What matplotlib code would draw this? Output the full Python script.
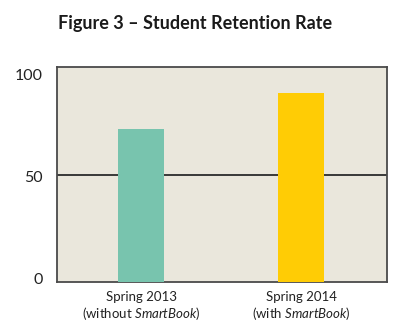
import matplotlib
matplotlib.use('Agg')
import matplotlib.pyplot as plt
import matplotlib.transforms as mtransforms

plt.rcParams['font.family'] = ['Lato', 'DejaVu Sans']
plt.rcParams['mathtext.fontset'] = 'custom'
plt.rcParams['mathtext.it'] = 'Lato:italic'
plt.rcParams['mathtext.rm'] = 'Lato'

# data
terms = ['Spring 2013', 'Spring 2014']
notes = ['(without $\\mathit{SmartBook}$)', '(with $\\mathit{SmartBook}$)']
retention = [71, 88]
bar_colors = ['#78C4AE', '#FFCC05']
y_ticks = [0, 50, 100]

fig = plt.figure(figsize=(4.03, 3.31), dpi=100)
ax = fig.add_axes([57 / 403, 1 - 282 / 331, 330 / 403, 215 / 331])
ax.set_facecolor('#EAE7DC')

x = list(range(len(terms)))
ax.bar(x, retention, width=0.2875, color=bar_colors, zorder=3)
ax.axhline(50, color='#2b2b2b', lw=1.3, zorder=2)

ax.set_xlim(-0.525, 1.5375)
ax.set_ylim(0, 100)
ax.set_yticks(y_ticks)
ax.set_yticklabels([str(v) for v in y_ticks], fontsize=11.5, color='#222222')
ax.tick_params(axis='y', length=0, pad=10)
ax.set_xticks([])

# the original labels sit a little off their gridline values
shifts = {0: 3, 50: -2, 100: -8}
for lab, v in zip(ax.get_yticklabels(), y_ticks):
    off = mtransforms.ScaledTranslation(0, shifts[v] / 100, fig.dpi_scale_trans)
    lab.set_transform(lab.get_transform() + off)

for side in ['left', 'right', 'top', 'bottom']:
    ax.spines[side].set_color('#4a4a4a')
    ax.spines[side].set_linewidth(1.3)

# two-line category labels
for xi, t, n in zip(x, terms, notes):
    ax.annotate(t, xy=(xi, 0), xycoords='data', xytext=(0, -15),
                textcoords='offset pixels', ha='center', va='center',
                fontsize=9.5, color='#222222', annotation_clip=False)
    ax.annotate(n, xy=(xi, 0), xycoords='data', xytext=(0, -32),
                textcoords='offset pixels', ha='center', va='center',
                fontsize=9.5, color='#222222', annotation_clip=False)

fig.text(195 / 403, 1 - 24 / 331, 'Figure 3 – Student Retention Rate',
         ha='center', va='center', fontsize=13, fontweight='bold',
         color='#1a1a1a')

fig.savefig('out.png', dpi=100, facecolor='white')
